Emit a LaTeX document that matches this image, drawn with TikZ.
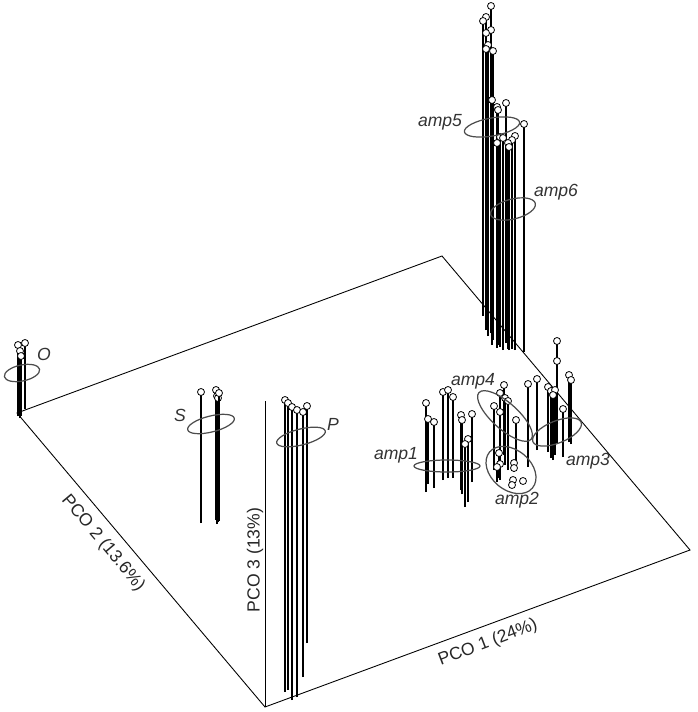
\documentclass[tikz,border=0pt]{standalone}
\usepackage{fontspec}
\setmainfont{Liberation Sans}
\usetikzlibrary{calc}

\begin{document}
\begin{tikzpicture}[
    x=0.02cm, y=-0.02cm,
    edge/.style={line width=0.5pt, black},
    stem/.style={line width=0.7pt, black},
    dotmark/.style={draw=black, fill=white, line width=0.45pt},
    ring/.style={draw=black!70, line width=0.7pt},
    grp/.style={font=\itshape\fontsize{10}{12}\selectfont, text=black!80},
    axlbl/.style={font=\fontsize{10}{12}\selectfont, text=black!85, inner sep=1pt}
]
\useasboundingbox (0,0) rectangle (697,712);

% base plane and vertical axis
\coordinate (orig) at (265,707);
\coordinate (left) at (17,413);
\coordinate (right) at (690,550);
\coordinate (back) at (442,256);
\coordinate (vtop) at (265,401);
\draw[edge] (left) -- (orig) -- (right) -- (back) -- cycle;
\draw[edge] (orig) -- (vtop);

% stems: x / top / bottom
\foreach \x/\t/\b in {
    18/345/416, 20/351/418, 21/356/416, 25/343/409,
    201/392/523, 216/390/520, 217/396/524, 218/398/522, 219/393/521,
    285/400/692, 288/403/690, 292/407/700, 297/410/697, 303/412/677, 307/406/643,
    491/6/331, 486/17/322, 483/21/316, 491/30/333, 486/33/327, 488/45/336,
    486/49/330, 493/51/340, 492/100/345, 497/107/348, 498/110/345, 506/103/343,
    524/124/352, 500/137/347, 503/138/350, 515/136/350, 512/140/349,
    497/143/345, 508/143/349, 509/147/350,
    426/403/492, 428/419/484, 434/422/488, 443/392/480, 448/390/478, 453/397/478,
    461/415/490, 462/420/494, 472/414/482, 468/439/502, 465/444/507,
    504/385/455, 500/393/460, 505/398/465, 508/401/470, 494/406/470, 500/412/465,
    516/420/470, 528/384/467, 537/379/450,
    499/453/478, 500/464/480, 497/467/482, 514/463/470, 514/468/472,
    557/341/443, 557/361/443, 569/375/442, 571/380/444, 548/387/452,
    551/391/458, 555/390/455, 553/395/460, 563/409/457}
{
    \draw[stem] (\x,\b) -- (\x,\t);
    \draw[dotmark] (\x,\t) circle (3.5);
}
% points without visible stems
\foreach \x/\t in {513/480, 523/481, 512/485}
    \draw[dotmark] (\x,\t) circle (3.5);

% group ellipses
\draw[ring, rotate around={12:(22,373)}] (22,373) ellipse (18 and 8);
\draw[ring, rotate around={14:(211,424)}] (211,424) ellipse (24 and 8);
\draw[ring, rotate around={14:(301,437)}] (301,437) ellipse (25 and 8);
\draw[ring, rotate around={10:(492,127)}] (492,127) ellipse (28 and 9);
\draw[ring, rotate around={14:(513,209)}] (513,209) ellipse (23 and 10);
\draw[ring] (447,466) ellipse (33 and 6);
\draw[ring, rotate around={-40:(511,470)}] (511,470) ellipse (28 and 20);
\draw[ring, rotate around={-42:(505,416)}] (505,416) ellipse (35 and 13);
\draw[ring, rotate around={22:(557,432)}] (557,432) ellipse (26 and 11);

% group labels
\node[grp] (lblO) at (44,354) {O};
\node[grp] (lblS) at (180,415) {S};
\node[grp] (lblP) at (333,424) {P};
\node[grp] (lbl5) at (440,122) {amp5};
\node[grp] (lbl6) at (556,192) {amp6};
\node[grp] (lbl4) at (473,381) {amp4};
\node[grp] (lbl1) at (396,455) {amp1};
\node[grp] (lbl2) at (517,500) {amp2};
\node[grp] (lbl3) at (588,461) {amp3};

% axis labels
\node[axlbl, rotate=21] (ax1) at (488,643) {PCO 1 (24\%)};
\node[axlbl, rotate=-50] (ax2) at (103,543) {PCO 2 (13.6\%)};
\node[axlbl, rotate=90] (ax3) at (255,560) {PCO 3 (13\%)};

\end{tikzpicture}
\end{document}
